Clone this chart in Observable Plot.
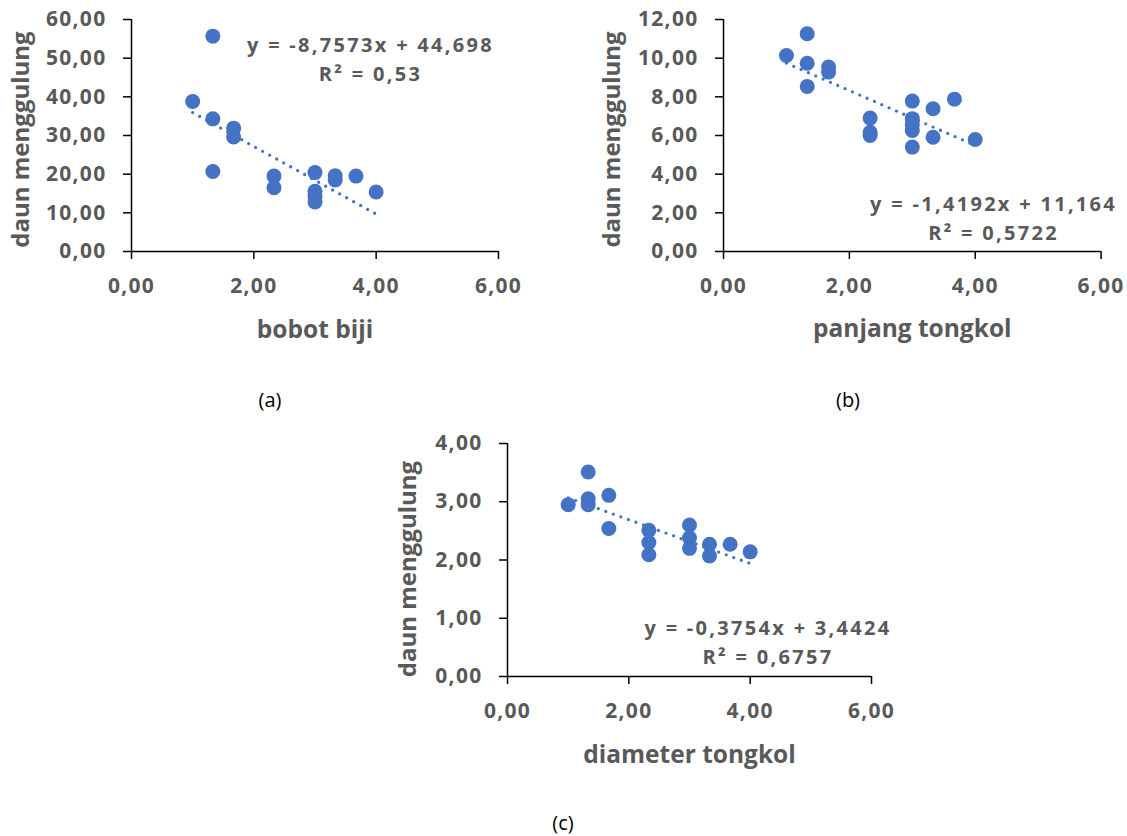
<!DOCTYPE html>
<html><head><meta charset="utf-8">
<script src="https://cdn.jsdelivr.net/npm/d3@7"></script>
<script src="https://cdn.jsdelivr.net/npm/@observablehq/plot@0.6"></script>
<style>
html,body{margin:0;padding:0;background:#fff;}
#root{position:relative;width:1127px;height:836px;overflow:hidden;font-family:"Open Sans",sans-serif;}
.panel{position:absolute;}
#root .panel svg{overflow:visible;max-width:none !important;}
.cap{position:absolute;font-family:"Open Sans";font-size:20px;color:#000;transform:translate(-50%,-50%);white-space:nowrap;}
#root svg g[aria-label$="tick label"] text{letter-spacing:1.3px;}
</style></head><body><div id="root"></div>
<script>
// ---- data ----
const yTitle = "daun menggulung";
const xTicks = [0, 2, 4, 6];

const xA = [1, 1.33, 1.33, 1.33, 1.67, 1.67, 2.33, 2.33, 3, 3, 3, 3, 3.33, 3.33, 3.67, 4];
const yA = [38.8, 55.7, 34.3, 20.7, 31.9, 29.6, 19.5, 16.5, 20.4, 15.6, 14.2, 12.8, 19.6, 18.5, 19.5, 15.4];
const ticksA = [0, 10, 20, 30, 40, 50, 60];
const trendA = {slope: -8.7573, intercept: 44.698, r2: 0.53};

const xB = [1, 1.33, 1.33, 1.33, 1.67, 1.67, 2.33, 2.33, 2.33, 3, 3, 3, 3, 3, 3.33, 3.33, 3.67, 4];
const yB = [10.14, 11.26, 9.74, 8.54, 9.54, 9.28, 6.9, 6.17, 6.0, 7.78, 6.87, 6.55, 6.26, 5.4, 7.38, 5.91, 7.88, 5.79];
const ticksB = [0, 2, 4, 6, 8, 10, 12];
const trendB = {slope: -1.4192, intercept: 11.164, r2: 0.5722};

const xC = [1, 1.33, 1.33, 1.33, 1.67, 1.67, 2.33, 2.33, 2.33, 3, 3, 3, 3.33, 3.33, 3.67, 4];
const yC = [2.95, 3.51, 3.05, 2.95, 3.11, 2.54, 2.51, 2.30, 2.09, 2.60, 2.38, 2.20, 2.27, 2.07, 2.27, 2.14];
const ticksC = [0, 1, 2, 3, 4];
const trendC = {slope: -0.3754, intercept: 3.4424, r2: 0.6757};

const xLabels = ["bobot biji", "panjang tongkol", "diameter tongkol"];
const captions = ["(a)", "(b)", "(c)"];

// ---- helpers ----
const fmt2 = d => d.toFixed(2).replace(".", ",");
const fmtN = v => String(v).replace(".", ",");
const blue = "#4472C4", grey = "#595959";

function panel(o) {
  const mL = 131, mT = 19, mR = 40, mB = 110;
  const W = mL + o.fw + mR, H = mT + o.fh + mB;
  const data = o.xs.map((x, i) => ({x, y: o.ys[i]}));
  const ext = d3.extent(o.xs);
  const trend = ext.map(x => ({x, y: o.t.slope * x + o.t.intercept}));
  const eq = `y = ${fmtN(o.t.slope)}x + ${fmtN(o.t.intercept)}\nR² = ${fmtN(o.t.r2)}`;
  const svg = Plot.plot({
    width: W, height: H,
    marginLeft: mL, marginTop: mT, marginRight: mR, marginBottom: mB,
    style: {fontFamily: "Open Sans", fontSize: "21px", fontWeight: "bold", background: "transparent", overflow: "visible"},
    x: {domain: [0, 6]},
    y: {domain: [0, d3.max(o.yTicks)]},
    marks: [
      Plot.axisX(xTicks, {tickSize: 8, tickPadding: 19, stroke: "#000", strokeWidth: 1.5, fill: grey,
        fontSize: 21, fontWeight: "bold", tickFormat: fmt2, label: null}),
      Plot.axisY(o.yTicks, {tickSize: 8, tickPadding: 17, stroke: "#000", strokeWidth: 1.5, fill: grey,
        fontSize: 21, fontWeight: "bold", tickFormat: fmt2, label: null}),
      Plot.ruleY([0], {stroke: "#000", strokeWidth: 1.5}),
      Plot.ruleX([0], {stroke: "#000", strokeWidth: 1.5}),
      Plot.dot(data, {x: "x", y: "y", r: 7.5, fill: blue}),
      Plot.line(trend, {x: "x", y: "y", stroke: blue, strokeWidth: 3.3, strokeDasharray: "0,8", strokeLinecap: "round"}),
      Plot.text([eq], {frameAnchor: o.eqAnchor, textAnchor: "middle", dx: o.eqDx, dy: o.eqDy, lineAnchor: "bottom", lineHeight: 1.45,
        fontSize: 20, fontWeight: "bold", fill: grey}),
      Plot.text([yTitle], {frameAnchor: "left", textAnchor: "middle", rotate: -90, lineAnchor: "top", dx: o.ylDx, dy: o.ylDy,
        fontSize: 24, fontWeight: "bold", fill: grey}),
      Plot.text([o.xLabel], {frameAnchor: "bottom", textAnchor: "middle", lineAnchor: "bottom", dy: 86,
        fontSize: 24.5, fontWeight: "bold", fill: grey})
    ]
  });
  // widen the trendline equation's letter spacing, as in the original
  svg.querySelectorAll("text").forEach(t => {
    if (t.textContent.includes("R²")) t.style.letterSpacing = "2.3px";
  });
  const div = document.createElement("div");
  div.className = "panel";
  div.style.left = o.left + "px";
  div.style.top = o.top + "px";
  div.style.width = W + "px";
  div.style.height = H + "px";
  div.appendChild(svg);
  document.getElementById("root").appendChild(div);
}

panel({xs: xA, ys: yA, yTicks: ticksA, t: trendA, xLabel: xLabels[0], left: 0, top: 0, fw: 367, fh: 232,
  eqAnchor: "top-right", eqDx: -128, eqDy: 61, ylDx: -120, ylDy: 4});
panel({xs: xB, ys: yB, yTicks: ticksB, t: trendB, xLabel: xLabels[1], left: 591.7, top: 0, fw: 377.6, fh: 232,
  eqAnchor: "bottom-right", eqDx: -107.5, eqDy: -11.5, ylDx: -121, ylDy: 4});
panel({xs: xC, ys: yC, yTicks: ticksC, t: trendC, xLabel: xLabels[2], left: 376.3, top: 423.7, fw: 364, fh: 233,
  eqAnchor: "bottom-right", eqDx: -103.5, eqDy: -12.5, ylDx: -109, ylDy: 9});

const capPos = [[270, 399], [848, 399], [563, 822]];
captions.forEach((c, i) => {
  const d = document.createElement("div");
  d.className = "cap";
  d.textContent = c;
  d.style.left = capPos[i][0] + "px";
  d.style.top = capPos[i][1] + "px";
  document.getElementById("root").appendChild(d);
});
</script></body></html>
